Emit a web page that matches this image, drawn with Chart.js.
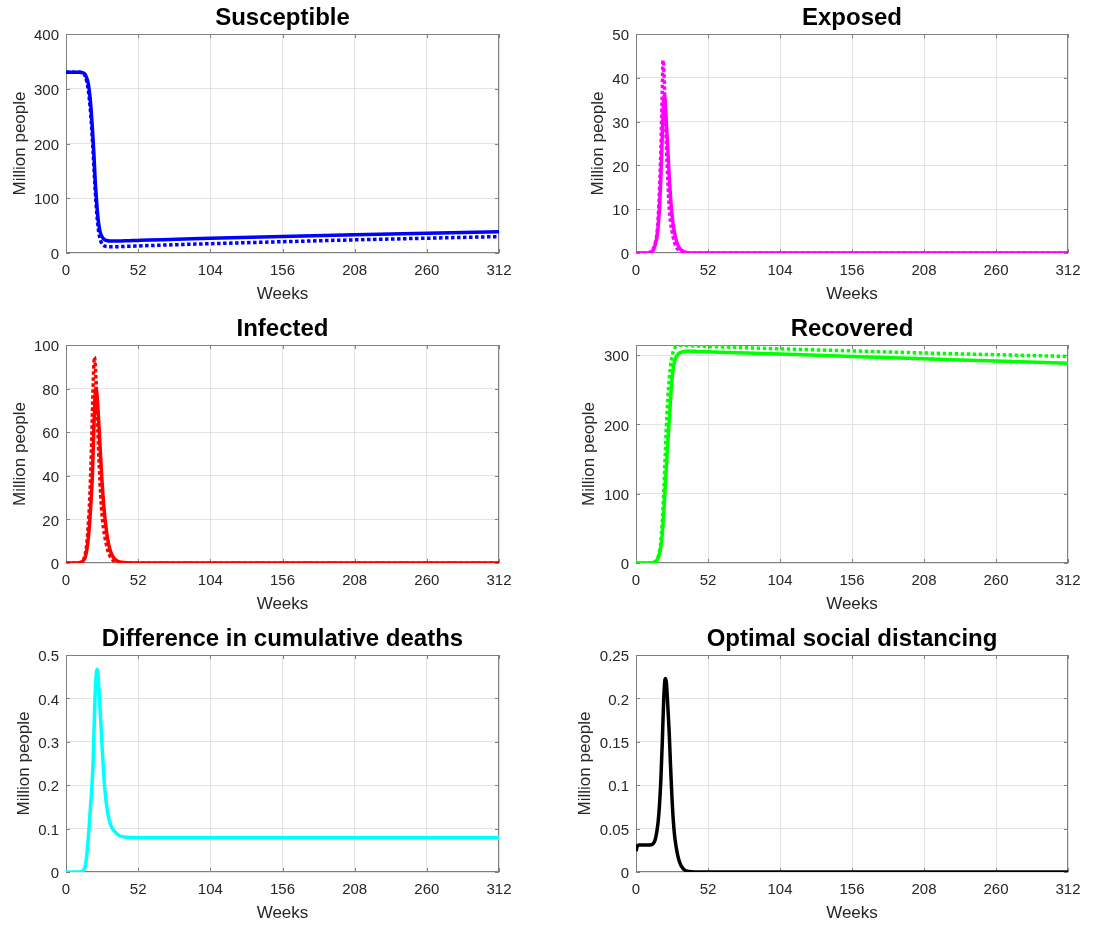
<!DOCTYPE html>
<html>
<head>
<meta charset="utf-8">
<script src="https://cdn.jsdelivr.net/npm/chart.js@4.4.1/dist/chart.umd.min.js"></script>
<style>
  body { margin: 0; background: #fff; width: 1093px; height: 925px; position: relative; overflow: hidden; }
  canvas { position: absolute; }
</style>
</head>
<body>
<canvas id="susceptibleChart"></canvas>
<canvas id="exposedChart"></canvas>
<canvas id="infectedChart"></canvas>
<canvas id="recoveredChart"></canvas>
<canvas id="deathsChart"></canvas>
<canvas id="distancingChart"></canvas>
<script>
const weeks = [0, 1, 2, 4, 8, 10, 12, 13, 14, 15, 16, 17, 18, 19, 19.5, 20, 20.5, 21, 21.5, 22, 22.5, 23,
  24, 25, 26, 27, 28, 30, 32, 34, 36, 38, 40, 44, 48, 52, 60, 80, 104, 156, 208, 260, 312];

// Solid = optimal control, dotted = no control (million people)
const susceptibleOpt = [330, 330, 330, 330, 330, 330, 329.5, 328, 325, 319, 310, 292, 265, 228, 207, 185, 160, 134, 114, 96, 79, 65,
  46, 35, 29.5, 26, 24, 22.3, 21.8, 21.7, 21.8, 22, 22.1, 22.4, 22.7, 23, 23.6, 25, 26.8, 30.3, 33.4, 36.2, 39];
const susceptibleNone = [330, 330, 330, 330, 330, 330, 329, 327, 322, 313, 299, 277, 247, 208, 186, 163, 139, 116, 96, 78, 63, 50,
  32, 22, 16.5, 13.8, 12.4, 11.5, 11.2, 11.2, 11.3, 11.5, 11.7, 12.1, 12.5, 12.9, 13.6, 15.2, 17, 20.6, 24, 27, 30];

const exposedOpt = [0, 0, 0, 0, 0.01, 0.1, 0.5, 1, 2, 3.5, 6, 10.5, 17.5, 27, 31.5, 35, 36, 35, 32.5, 29.5, 26.5, 23.5,
  17.5, 12.5, 8.8, 6.2, 4.3, 2, 0.9, 0.4, 0.15, 0.05, 0.02, 0, 0, 0, 0, 0, 0, 0, 0, 0, 0];
const exposedNone = [0, 0, 0, 0, 0.02, 0.2, 0.8, 1.4, 2.4, 4, 8, 14.5, 24, 37, 44, 42.5, 38.5, 33.5, 28.5, 24, 20, 16.5,
  10.5, 7, 5, 3.4, 2.2, 0.9, 0.35, 0.12, 0.04, 0.01, 0, 0, 0, 0, 0, 0, 0, 0, 0, 0, 0];

const infectedOpt = [0, 0, 0, 0, 0.02, 0.2, 0.8, 1.5, 3, 6, 11, 18, 28, 40, 50, 60, 70, 77, 80, 79, 76, 71,
  60, 48, 37, 28, 21, 11, 5.5, 2.7, 1.3, 0.6, 0.3, 0.06, 0.01, 0, 0, 0, 0, 0, 0, 0, 0];
const infectedNone = [0, 0, 0, 0, 0.03, 0.2, 1, 2, 4.5, 9, 17, 28, 45, 68, 80, 90, 94.5, 92, 86, 78, 69, 60,
  44, 31, 22, 16, 12, 6, 2.8, 1.2, 0.5, 0.2, 0.08, 0.01, 0, 0, 0, 0, 0, 0, 0, 0, 0];

const recoveredOpt = [0, 0, 0, 0, 0, 0.1, 0.3, 0.8, 1.8, 3.5, 7, 13, 24, 42, 55, 70, 87, 105, 123, 140, 157, 174,
  205, 237, 265, 282, 292, 300.5, 303.5, 305, 305.5, 305.7, 305.6, 305.3, 305, 304.8, 304.2, 303, 301.5, 298, 294.7, 291.3, 288];
const recoveredNone = [0, 0, 0, 0, 0, 0.1, 0.4, 1, 2.3, 4.5, 9, 17, 32, 60, 80, 102, 125, 150, 175, 200, 220, 238,
  265, 285, 298, 306, 310, 313.5, 314, 314, 313.8, 313.5, 313.3, 313, 312.7, 312.4, 311.9, 310.5, 309, 306, 303, 300.5, 298];

const deathsDiff = [0, 0, 0, 0, 0, 0.0005, 0.002, 0.006, 0.015, 0.04, 0.075, 0.12, 0.165, 0.215, 0.25, 0.305, 0.36, 0.41, 0.443, 0.461, 0.467, 0.458,
  0.405, 0.35, 0.29, 0.235, 0.19, 0.137, 0.11, 0.097, 0.09, 0.085, 0.082, 0.08, 0.0795, 0.079, 0.079, 0.079, 0.079, 0.079, 0.079, 0.079, 0.079];

const distancing = [0.024, 0.03, 0.031, 0.031, 0.031, 0.031, 0.032, 0.034, 0.038, 0.046, 0.058, 0.078, 0.108, 0.15, 0.175, 0.198, 0.214, 0.222, 0.223, 0.217, 0.205, 0.19,
  0.16, 0.12, 0.085, 0.058, 0.04, 0.02, 0.009, 0.004, 0.0015, 0.0005, 0.0002, 0, 0, 0, 0, 0, 0, 0, 0, 0, 0];

// Tick labels
const xTicks = [0, 52, 104, 156, 208, 260, 312];
const yTicksSusceptible = [0, 100, 200, 300, 400];
const yTicksExposed = [0, 10, 20, 30, 40, 50];
const yTicksInfected = [0, 20, 40, 60, 80, 100];
const yTicksRecovered = [0, 100, 200, 300];
const yTicksDeaths = [0, 0.1, 0.2, 0.3, 0.4, 0.5];
const yTicksDistancing = [0, 0.05, 0.1, 0.15, 0.2, 0.25];

const FONT = "'Liberation Sans', Arial, Helvetica, sans-serif";
const TEXT = '#262626';

// MATLAB style box with small inward ticks, plus the title centred over the plot area
const boxPlugin = {
    id: 'matlabBox',
    beforeDatasetsDraw(chart) {
        const { ctx, chartArea: a, scales: { x, y } } = chart;
        ctx.save();
        ctx.strokeStyle = '#808080';
        ctx.lineWidth = 1;
        ctx.beginPath();
        x.ticks.forEach(t => {
            const px = Math.round(x.getPixelForValue(t.value)) + 0.5;
            ctx.moveTo(px, a.bottom); ctx.lineTo(px, a.bottom - 4);
            ctx.moveTo(px, a.top); ctx.lineTo(px, a.top + 4);
        });
        y.ticks.forEach(t => {
            const py = Math.round(y.getPixelForValue(t.value)) + 0.5;
            ctx.moveTo(a.left, py); ctx.lineTo(a.left + 4, py);
            ctx.moveTo(a.right, py); ctx.lineTo(a.right - 4, py);
        });
        ctx.stroke();
        ctx.strokeRect(Math.round(a.left) + 0.5, Math.round(a.top) + 0.5,
            Math.round(a.right - a.left) - 1, Math.round(a.bottom - a.top) - 1);
        ctx.restore();
    },
    afterDraw(chart, args, opts) {
        const { ctx, chartArea: a } = chart;
        ctx.save();
        ctx.fillStyle = '#000';
        ctx.font = 'bold 24px ' + FONT;
        ctx.textAlign = 'center';
        ctx.textBaseline = 'middle';
        ctx.fillText(opts.title, (a.left + a.right) / 2, a.top - 16);
        ctx.restore();
    }
};

function fmt(v) {
    return String(Number(v.toFixed(4)));
}

function makeChart(id, pos, title, yTicks, yMax, yTitlePad, series) {
    const cv = document.getElementById(id);
    cv.width = pos.w;
    cv.height = 34 + pos.plotH + 52;
    cv.style.left = pos.x + 'px';
    cv.style.top = pos.y + 'px';

    new Chart(cv, {
        type: 'line',
        data: {
            datasets: series.map(s => ({
                data: weeks.map((w, i) => ({ x: w, y: s.values[i] })),
                borderColor: s.color,
                borderWidth: 3.5,
                borderDash: s.dotted ? [3.5, 2.5] : [],
                borderCapStyle: 'butt',
                pointRadius: 0,
                cubicInterpolationMode: 'monotone',
                fill: false
            }))
        },
        options: {
            responsive: false,
            animation: false,
            layout: { padding: { left: 0, right: pos.padRight, top: 34, bottom: 0 } },
            plugins: {
                legend: { display: false },
                tooltip: { enabled: false },
                title: { display: false },
                matlabBox: { title: title }
            },
            scales: {
                x: {
                    type: 'linear', min: 0, max: 312,
                    afterBuildTicks: s => { s.ticks = xTicks.map(v => ({ value: v })); },
                    afterFit: s => { s.height = 52; s.paddingLeft = 0; s.paddingRight = 0; },
                    grid: { color: '#e3e3e3', drawTicks: false },
                    border: { display: false },
                    ticks: { color: TEXT, font: { family: FONT, size: 15 }, padding: 9, maxRotation: 0, autoSkip: false, callback: fmt },
                    title: { display: true, text: 'Weeks', color: TEXT, font: { family: FONT, size: 17 }, padding: { top: 0, bottom: 0 } }
                },
                y: {
                    type: 'linear', min: 0, max: yMax,
                    afterBuildTicks: s => { s.ticks = yTicks.map(v => ({ value: v })); },
                    afterFit: s => { s.width = 66; s.paddingTop = 0; s.paddingBottom = 0; },
                    grid: { color: '#e3e3e3', drawTicks: false },
                    border: { display: false },
                    ticks: { color: TEXT, font: { family: FONT, size: 15 }, padding: 7, labelOffset: 2, autoSkip: false, callback: fmt },
                    title: { display: true, text: 'Million people', color: TEXT, font: { family: FONT, size: 17 }, padding: { top: yTitlePad, bottom: 0 } }
                }
            }
        },
        plugins: [boxPlugin]
    });
}

const leftCol = { x: 0, w: 546, padRight: 47 };
const rightCol = { x: 570, w: 523, padRight: 25 };
const rows = [{ y: 0, plotH: 219 }, { y: 311, plotH: 218 }, { y: 621, plotH: 217 }];
const place = (col, row) => Object.assign({}, col, rows[row]);

makeChart('susceptibleChart', place(leftCol, 0), 'Susceptible', yTicksSusceptible, 400, 10.3, [
    { values: susceptibleNone, color: '#0000ff', dotted: true },
    { values: susceptibleOpt, color: '#0000ff' }
]);
makeChart('exposedChart', place(rightCol, 0), 'Exposed', yTicksExposed, 50, 18.3, [
    { values: exposedNone, color: '#ff00ff', dotted: true },
    { values: exposedOpt, color: '#ff00ff' }
]);
makeChart('infectedChart', place(leftCol, 1), 'Infected', yTicksInfected, 100, 10.3, [
    { values: infectedNone, color: '#ff0000', dotted: true },
    { values: infectedOpt, color: '#ff0000' }
]);
makeChart('recoveredChart', place(rightCol, 1), 'Recovered', yTicksRecovered, 314.5, 9.3, [
    { values: recoveredNone, color: '#00ff00', dotted: true },
    { values: recoveredOpt, color: '#00ff00' }
]);
makeChart('deathsChart', place(leftCol, 2), 'Difference in cumulative deaths', yTicksDeaths, 0.5, 13.8, [
    { values: deathsDiff, color: '#00ffff' }
]);
makeChart('distancingChart', place(rightCol, 2), 'Optimal social distancing', yTicksDistancing, 0.25, 4.8, [
    { values: distancing, color: '#000000' }
]);
</script>
</body>
</html>
